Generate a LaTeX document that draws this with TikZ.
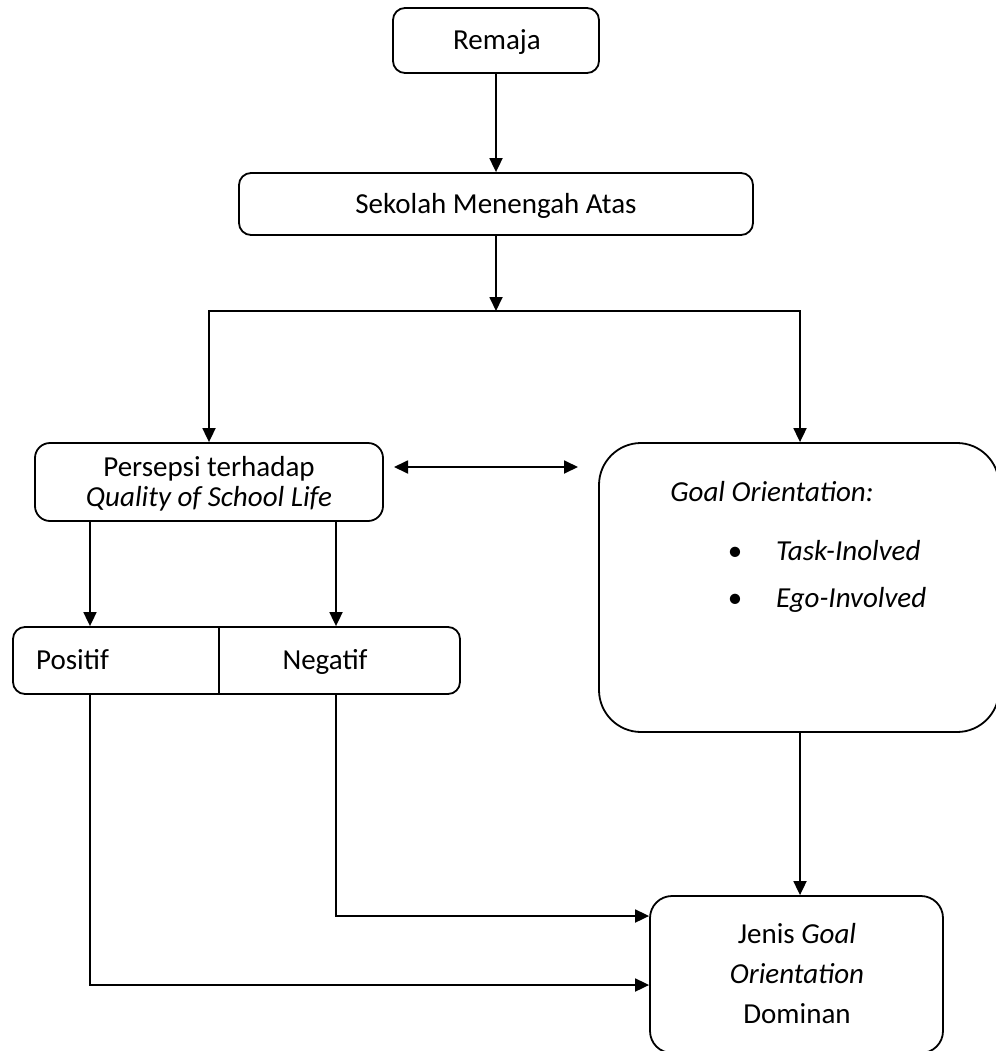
\documentclass[tikz,border=0pt]{standalone}
\usepackage{fontspec}
\setmainfont{Carlito}
\usetikzlibrary{arrows.meta,calc}
\begin{document}
\begin{tikzpicture}[x=1pt,y=-1pt,
  font=\fontsize{29}{35}\selectfont,
  box/.style={draw,line width=1.8pt,rounded corners=12pt,inner sep=0pt,align=center},
  txt/.style={inner sep=0pt,anchor=base},
  ln/.style={line width=1.8pt},
  arr/.style={line width=1.8pt,-{Triangle[length=14pt,width=13pt]}},
  darr/.style={line width=1.8pt,{Triangle[length=14pt,width=13pt]}-{Triangle[length=14pt,width=13pt]}}]
\useasboundingbox (0,0) rectangle (995,1051);

% boxes
\node[box,minimum width=206pt,minimum height=65pt] (remaja) at (496,40.5) {};
\node[txt] (remajat) at (497,50) {Remaja};
\node[box,minimum width=514pt,minimum height=62pt] (sma) at (496,204) {};
\node[txt] (smat) at (496,213.5) {Sekolah Menengah Atas};
\coordinate (split) at (496,311);
\node[box,rounded corners=15pt,minimum width=348pt,minimum height=78pt] (qsl) at (209,482) {};
\node[txt] (qsl1) at (209,476) {Persepsi terhadap};
\node[txt] (qsl2) at (209,506) {\textit{Quality of School Life}};
\node[box,rounded corners=42pt,minimum width=400pt,minimum height=289pt] (goal) at (799,587.5) {};
\node[txt] (gtitle) at (772,501) {\textit{Goal Orientation:}};
\node[txt,anchor=base west] (task) at (776,560) {\textit{Task-Inolved}};
\node[txt,anchor=base west] (ego) at (776,607) {\textit{Ego-Involved}};
\node[txt] (b1) at (735,560) {\textbullet};
\node[txt] (b2) at (735,607) {\textbullet};

\node[box,rounded corners=12pt,minimum width=447pt,minimum height=67pt] (pn) at (236.5,660.5) {};
\draw[ln] ($(pn.north west)+(207,0)$) -- ($(pn.south west)+(207,0)$);
\node[txt,anchor=base west] (pos) at (36,669) {Positif};
\node[txt] (neg) at (325,669) {Negatif};

\node[box,rounded corners=22pt,minimum width=293pt,minimum height=157pt] (jenis) at (796.5,974.5) {};
\node[txt] (j1) at (797,943) {Jenis \textit{Goal}};
\node[txt] (j2) at (797,983) {\textit{Orientation}};
\node[txt] (j3) at (797,1023) {Dominan};

% connectors
\draw[arr] (remaja) -- (sma);
\draw[arr] (sma) -- (split);
\draw[arr] (split) -| (qsl.north);
\draw[arr] (split) -| ([xshift=1pt]goal.north);
\coordinate (dl) at (394,467);
\coordinate (dr) at (578,467);
\draw[darr] (dl) -- (dr);
\draw[arr] ([xshift=-119pt]qsl.south) -- ([xshift=-119pt]qsl.south |- pn.north);
\draw[arr] ([xshift=127pt]qsl.south) -- ([xshift=127pt]qsl.south |- pn.north);
\draw[arr] ([xshift=1pt]goal.south) -- ([xshift=1pt]goal.south |- jenis.north);
\draw[arr] ([xshift=99.5pt]pn.south) |- ([yshift=58.5pt]jenis.west);
\draw[arr] ([xshift=-146.5pt]pn.south) |- ([yshift=-10.5pt]jenis.west);
\end{tikzpicture}
\end{document}
